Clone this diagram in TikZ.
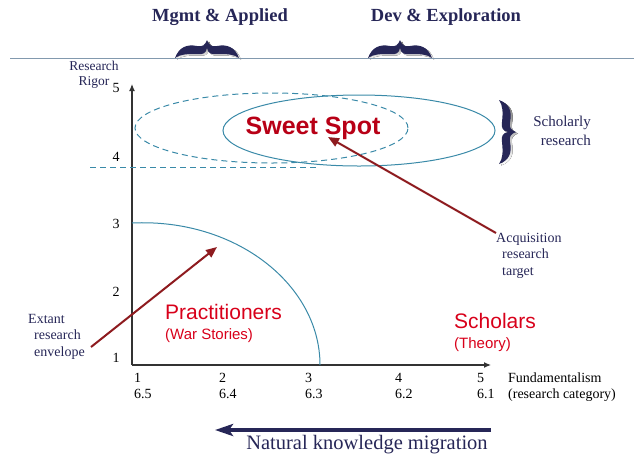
\documentclass[tikz,border=0pt]{standalone}
\usepackage{fontspec}
\setmainfont{Liberation Serif}
\newfontfamily\arialfont{Liberation Sans}
\usetikzlibrary{arrows.meta}
\definecolor{ink}{HTML}{262657}
\definecolor{curve}{HTML}{3A8AA8}
\definecolor{rule}{HTML}{8299AE}
\definecolor{darkred}{HTML}{8E1B1F}
\definecolor{hotred}{HTML}{D8001A}
\definecolor{shade}{HTML}{A7B3C8}
\newcommand{\fsz}[2]{\fontsize{#1}{#2}\selectfont}
% brace outlines, tip up and tip right
\newcommand{\hbracepath}{(0,18) .. controls (4,7) and (12,4) .. (22,6) .. controls (28,7) and (30,5) .. (32,0)
      .. controls (34,5) and (36,7) .. (42,6) .. controls (52,4) and (60,7) .. (64,18)
      .. controls (58,14) and (52,14) .. (42,14) .. controls (36,15) and (33,13) .. (32,8)
      .. controls (31,13) and (28,15) .. (22,14) .. controls (12,14) and (6,14) .. (0,18) -- cycle}
\newcommand{\vbracepath}{(0,0) .. controls (11,4) and (13,12) .. (11,22) .. controls (10,28) and (12,30) .. (17,32)
      .. controls (12,34) and (10,36) .. (11,42) .. controls (13,52) and (11,60) .. (0,64)
      .. controls (4,58) and (4,52) .. (3,42) .. controls (2,36) and (4,33) .. (9,32)
      .. controls (4,31) and (2,28) .. (3,22) .. controls (4,12) and (4,6) .. (0,0) -- cycle}
\tikzset{
  ticklabel/.style={inner sep=0pt, font=\fsz{14}{16}},
  note/.style={inner sep=0pt, text=ink, font=\fsz{14}{16.5}},
  header/.style={inner sep=0pt, text=ink, font=\fsz{18.5}{20}\bfseries},
  groupname/.style={inner sep=0pt, text=hotred, align=left, font=\arialfont\fsz{21}{23}},
  pointer/.style={darkred, line width=2pt, -{Triangle[length=11pt,width=9pt]}},
  hbrace/.pic={
    \fill[shade, shift={(2,1.5)}] \hbracepath;
    \fill[ink] \hbracepath;
  },
  vbrace/.pic={
    \fill[shade, shift={(2,1.5)}] \vbracepath;
    \fill[ink] \vbracepath;
  }
}
\begin{document}
\begin{tikzpicture}[x=1pt,y=-1pt]
  \useasboundingbox (0,0) rectangle (634,456);
  % headers and braces
  \node[header] (mgmt) at (220,17) {Mgmt \& Applied};
  \node[header] (dev) at (446,17) {Dev \& Exploration};
  \pic at (175,40) {hbrace};
  \pic at (368,40) {hbrace};
  \draw[rule, line width=1pt] (10,58) -- (634,58);

  % axes
  \coordinate (origin) at (132,365);
  \coordinate (ytop) at (132,84);
  \coordinate (xend) at (491,365);
  \draw[black!80, line width=1.2pt, -{Latex[length=7pt,width=6pt]}] (origin) -- (ytop);
  \draw[black!80, line width=1.2pt, -{Latex[length=7pt,width=6pt]}] (origin) -- (xend);
  \node[note, align=center, font=\fsz{13.5}{15}] (rigor) at (94,75) {Research\\ Rigor};
  \foreach \v/\y in {1/358,2/292,3/224,4/157,5/88}
    \node[ticklabel] (y\v) at (116,\y) {\v};
  \foreach \v/\a/\x in {1/6.5/134,2/6.4/219,3/6.3/305,4/6.2/395,5/6.1/477}
    \node[ticklabel, anchor=north west, align=left] (x\v) at (\x,373) {\v\\ \a};
  \node[ticklabel, anchor=north west, align=left] (fund) at (508,373)
    {Fundamentalism\\ (research category)};

  % rigor zones
  \draw[curve, line width=1pt, dash pattern=on 6pt off 4pt] (90,167) -- (318,167);
  \draw[curve, line width=1pt, dash pattern=on 6pt off 4pt] (271.5,128) ellipse [x radius=136.5pt, y radius=35pt];
  \draw[curve, line width=1pt] (359,130.5) ellipse [x radius=136pt, y radius=35.5pt];
  \draw[curve, line width=1pt] (132,223) .. controls (236,218) and (320,285) .. (320,365);
  \pic at (499,100) {vbrace};
  \node[note, align=right, font=\fsz{15}{19}] (scholarly) at (562,131) {Scholarly\\ research};

  % groups
  \node[inner sep=0pt, text=hotred!85!black, font=\arialfont\bfseries\fsz{25}{27}] (sweet) at (313,128) {Sweet Spot};
  \node[groupname, anchor=north west] (pract) at (165,304) {Practitioners\\[-3pt]{\fsz{15}{17}(War Stories)}};
  \node[groupname, anchor=north west] (schol) at (454,313) {Scholars\\[-3pt]{\fsz{15}{17}(Theory)}};

  % pointers
  \node[note, anchor=north west, align=left] (acq) at (496,233)
    {Acquisition\\ \hspace*{6pt}research\\ \hspace*{6pt}target};
  \coordinate (sweettip) at (328,137);
  \draw[pointer] (acq.north west) -- (sweettip);
  \node[note, anchor=north west, align=left] (extant) at (28,314)
    {Extant\\ \hspace*{6pt}research\\ \hspace*{6pt}envelope};
  \coordinate (exttail) at (91,347);
  \coordinate (envtip) at (217,247);
  \draw[pointer] (exttail) -- (envtip);

  % migration
  \coordinate (migstart) at (491,430);
  \coordinate (migend) at (215,430);
  \draw[ink, line width=3.5pt, -{Stealth[length=18pt,width=12pt,inset=4pt]}] (migstart) -- (migend);
  \node[inner sep=0pt, text=ink, font=\fsz{20.5}{22}] (migration) at (367,445) {Natural knowledge migration};
\end{tikzpicture}
\end{document}
